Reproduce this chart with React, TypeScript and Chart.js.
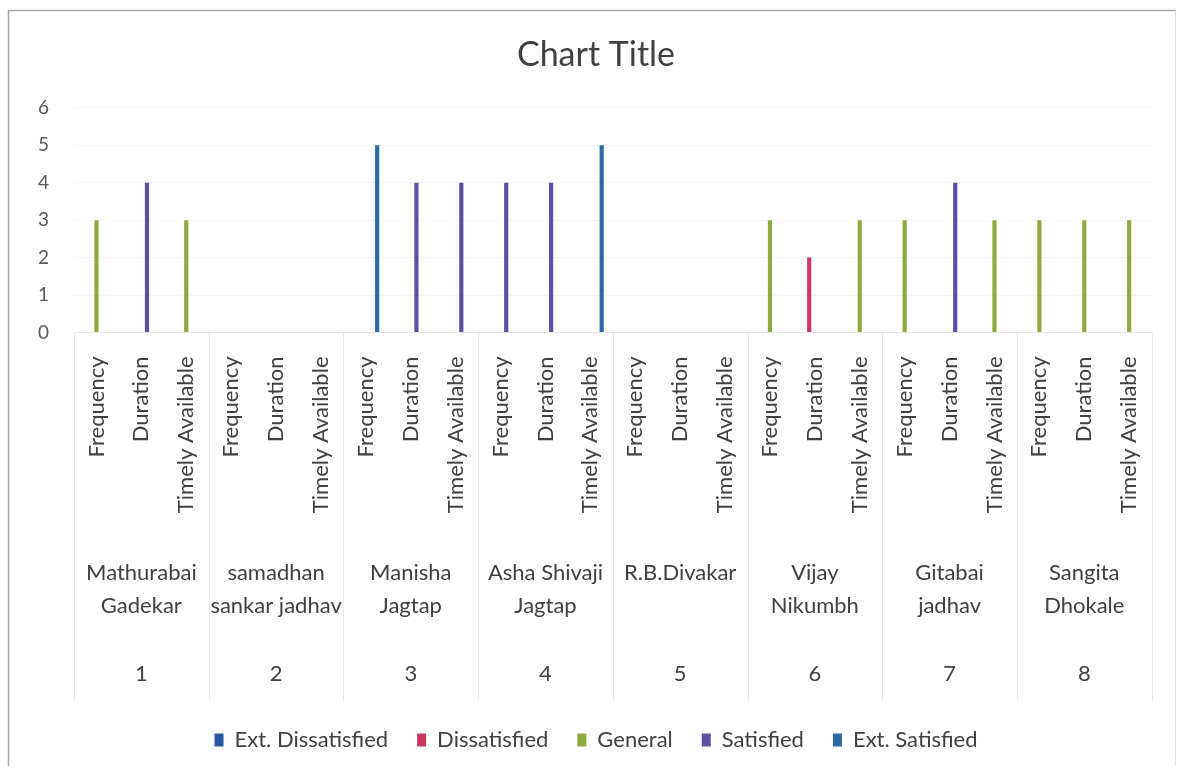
import React, { useEffect, useRef } from 'react';
import { Chart, registerables } from 'chart.js';

Chart.register(...registerables);

const FONT = 'Lato';

const subCategories = ['Frequency', 'Duration', 'Timely Available'];
const groupNames: string[][] = [
  ['Mathurabai', 'Gadekar'],
  ['samadhan', 'sankar jadhav'],
  ['Manisha', 'Jagtap'],
  ['Asha Shivaji', 'Jagtap'],
  ['R.B.Divakar'],
  ['Vijay', 'Nikumbh'],
  ['Gitabai', 'jadhav'],
  ['Sangita', 'Dhokale'],
];
const groupNumbers = ['1', '2', '3', '4', '5', '6', '7', '8'];
const categories = groupNames.flatMap(() => subCategories);

const yTicks = [0, 1, 2, 3, 4, 5, 6];

const extDissatisfied = [
  null, null, null, null, null, null, null, null, null, null, null, null,
  null, null, null, null, null, null, null, null, null, null, null, null,
];
const dissatisfied = [
  null, null, null, null, null, null, null, null, null, null, null, null,
  null, null, null, null, 2, null, null, null, null, null, null, null,
];
const general = [
  3, null, 3, null, null, null, null, null, null, null, null, null,
  null, null, null, 3, null, 3, 3, null, 3, 3, 3, 3,
];
const satisfied = [
  null, 4, null, null, null, null, null, 4, 4, 4, 4, null,
  null, null, null, null, null, null, null, 4, null, null, null, null,
];
const extSatisfied = [
  null, null, null, null, null, null, 5, null, null, null, null, 5,
  null, null, null, null, null, null, null, null, null, null, null, null,
];

const seriesNames = ['Ext. Dissatisfied', 'Dissatisfied', 'General', 'Satisfied', 'Ext. Satisfied'];
const seriesColors = ['#2A55A0', '#C8385F', '#8CAA3E', '#5E4FA6', '#2C69A6'];
const seriesData = [extDissatisfied, dissatisfied, general, satisfied, extSatisfied];

const backgroundPlugin = {
  id: 'bgBorder',
  beforeDraw(chart: any) {
    const { ctx, width, height } = chart;
    ctx.save();
    ctx.fillStyle = '#ffffff';
    ctx.fillRect(0, 0, width, height);
    ctx.strokeStyle = '#a6a6a6';
    ctx.lineWidth = 1.5;
    ctx.beginPath();
    ctx.moveTo(8.5, 766);
    ctx.lineTo(8.5, 10.5);
    ctx.lineTo(1176, 10.5);
    ctx.stroke();
    ctx.strokeStyle = '#e2e2e2';
    ctx.lineWidth = 1;
    ctx.beginPath();
    ctx.moveTo(1175.5, 10.5);
    ctx.lineTo(1175.5, 766);
    ctx.stroke();
    ctx.restore();
  },
};

const multiLevelPlugin = {
  id: 'multiLevel',
  afterDraw(chart: any) {
    const { ctx } = chart;
    const xs = chart.scales.x;
    const top = chart.chartArea.bottom;
    const half = (xs.getPixelForValue(1) - xs.getPixelForValue(0)) / 2;
    ctx.save();
    ctx.strokeStyle = '#e8e8e8';
    ctx.lineWidth = 1;
    for (let g = 0; g <= groupNames.length; g++) {
      const x = g < groupNames.length
        ? xs.getPixelForValue(g * 3) - half
        : xs.getPixelForValue(g * 3 - 1) + half;
      ctx.beginPath();
      ctx.moveTo(Math.round(x) + 0.5, top);
      ctx.lineTo(Math.round(x) + 0.5, 700);
      ctx.stroke();
    }
    ctx.fillStyle = '#404040';
    ctx.textAlign = 'center';
    ctx.textBaseline = 'middle';
    ctx.font = `22px ${FONT}`;
    groupNames.forEach((lines, g) => {
      const cx = (xs.getPixelForValue(g * 3) + xs.getPixelForValue(g * 3 + 2)) / 2;
      lines.forEach((t, i) => ctx.fillText(t, cx, 573 + i * 33));
      ctx.fillText(groupNumbers[g], cx, 674);
    });
    ctx.restore();
  },
};

export default function App() {
  const ref = useRef<HTMLCanvasElement>(null);
  useEffect(() => {
    const canvas = ref.current!;
    const chart = new Chart(canvas, {
      type: 'bar',
      data: {
        labels: categories,
        datasets: seriesNames.map((name, i) => ({
          label: name,
          data: seriesData[i],
          backgroundColor: seriesColors[i],
          borderWidth: 0,
          categoryPercentage: 0.63,
          barPercentage: 0.74,
        })),
      },
      options: {
        responsive: false,
        animation: false,
        devicePixelRatio: 1,
        layout: { padding: { left: 32, right: 20, top: 0, bottom: 10 } },
        plugins: {
          title: {
            display: true,
            text: 'Chart Title',
            color: '#404040',
            font: { family: FONT, size: 34, weight: 'normal' },
            padding: { top: 35, bottom: 32 },
          },
          legend: {
            position: 'bottom',
            labels: {
              color: '#404040',
              font: { family: FONT, size: 22 },
              boxWidth: 9,
              boxHeight: 13,
              padding: 29,
            },
          },
          tooltip: { enabled: false },
        },
        scales: {
          x: {
            grid: { display: false, drawTicks: false },
            border: { display: true, color: '#e4e4e4' },
            ticks: {
              autoSkip: false,
              minRotation: 90,
              maxRotation: 90,
              padding: 24,
              color: '#404040',
              font: { family: FONT, size: 22 },
            },
            afterFit: (s: any) => { s.height = 367.5; },
          },
          y: {
            min: 0,
            max: 6,
            afterBuildTicks: (s: any) => { s.ticks = yTicks.map((v) => ({ value: v })); },
            ticks: {
              padding: 25,
              color: '#595959',
              font: { family: FONT, size: 19 },
            },
            grid: { color: '#f5f5f5', drawTicks: false },
            border: { display: false },
            afterFit: (s: any) => { s.width = 42; },
          },
        },
      },
      plugins: [backgroundPlugin, multiLevelPlugin],
    });
    return () => chart.destroy();
  }, []);
  return (
    <div style={{ position: 'fixed', left: 0, top: 0, width: 1180, height: 771, background: '#fff' }}>
      <canvas ref={ref} width={1180} height={771} style={{ display: 'block' }} />
    </div>
  );
}
